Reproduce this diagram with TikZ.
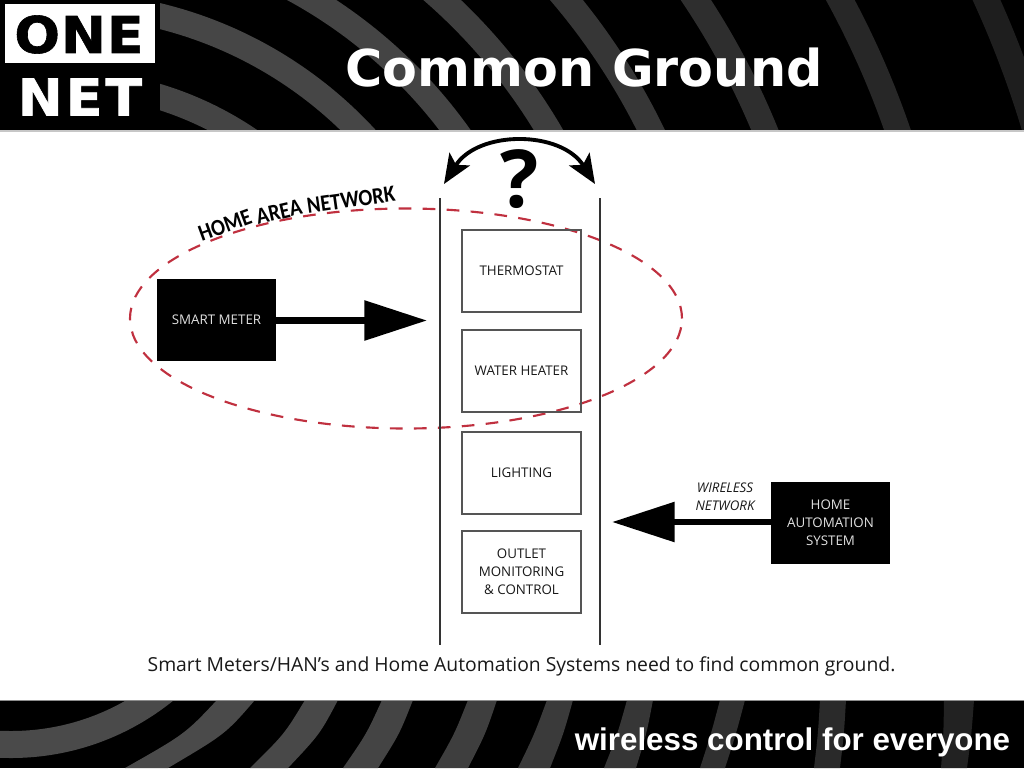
\documentclass[tikz,border=0pt]{standalone}
\usepackage{fontspec}
\usetikzlibrary{arrows.meta,shapes.geometric}
\setmainfont{Open Sans}
\newfontfamily\djb{DejaVu Sans}[BoldFont={DejaVu Sans Bold}]
\newfontfamily\logof{DejaVu Sans Bold}[FakeStretch=1.06,FakeBold=1.2]
\newfontfamily\lib{Liberation Sans}
\newfontfamily\hanf{Carlito Bold}
\definecolor{dgray}{HTML}{333333}
\definecolor{boxline}{HTML}{555555}
\definecolor{dashred}{HTML}{C0303F}
\tikzset{
  x=0.75pt,y=-0.75pt,
  appbox/.style={draw=boxline,line width=1.1pt,minimum width=89.25pt,minimum height=61.5pt,inner sep=0pt,align=center,font=\fontsize{10}{13.5}\selectfont,text=black!90},
  blackbox/.style={fill=black,minimum width=89.25pt,minimum height=61.5pt,inner sep=0pt,align=center,font=\fontsize{10}{13.5}\selectfont,text=black!12},
  bigarrow/.style={line width=5.2pt,-{Triangle[length=47pt,width=29pt]}},
  rail/.style={draw=dgray,line width=2pt},
  hanword/.style={inner sep=0pt,text=black,font={\hanf\fontsize{17.5}{17.5}\selectfont}},
  bothheads/.style={{Stealth[length=22pt,width=18pt,inset=5pt]}-{Stealth[length=22pt,width=18pt,inset=5pt]}},
}
\begin{document}
\begin{tikzpicture}
\useasboundingbox (0,0) rectangle (1024,768);
\fill[white] (0,0) rectangle (1024,768);
% top band
\fill[black] (0,0) rectangle (1024,130);
\begin{scope}
\clip (160,0) rectangle (1024,130);
\foreach \r/\c in {338/444444,416/464646,490/444444,568/3E3E3E,658/363636,762/2E2E2E,886/272727,1017/1E1E1E}{
  \definecolor{bandc}{HTML}{\c}
  \draw[bandc,line width=19pt] (60,420) circle[radius=\r*0.75pt];
}
\end{scope}
\fill[black!22] (0,130) rectangle (1024,131.5);
% bottom band
\fill[black] (0,700) rectangle (1024,768);
\begin{scope}
\clip (0,700) rectangle (1024,768);
\definecolor{bandc}{HTML}{4A4A4A}
\draw[bandc,line width=20.25pt] (11,500) circle[radius=244.5*0.75pt];
\foreach \a/\b/\c/\d/\e/\k in {217/255/168/125/14/4A4A4A,305/338/288/250/7/484848,382/413/378/343/4/444444,468/497/468/435/3/3E3E3E,547/573/550/518/2/3A3A3A,627/653/636/604/2/363636,720/745/725/700/1/303030,820/846/840/814/1/2A2A2A,944/974/967/941/1/222222}{
  \definecolor{bandc}{HTML}{\k}
  \fill[bandc] (\a,700) -- (\b,700) .. controls ({(\b+\c)/2+\e},734) .. (\c,768) -- (\d,768) .. controls ({(\a+\d)/2+\e},734) .. (\a,700) -- cycle;
}
\end{scope}
\fill[black!45] (0,700) rectangle (1024,701);
% logo and headings
\fill[white] (5,4) rectangle (155,63);
\node (one) at (79,34.5) [inner sep=0pt,text=black,font={\logof\fontsize{38}{38}\selectfont\addfontfeature{LetterSpace=2}}] {ONE};
\node (net) at (80,97) [inner sep=0pt,text=white,font={\logof\fontsize{38}{38}\selectfont\addfontfeature{LetterSpace=6}}] {NET};
\node (title) at (584,68) [inner sep=0pt,text=white,font={\djb\bfseries\fontsize{38.1}{38.1}\selectfont}] {Common Ground};
\node (tag) at (792.5,742.5) [inner sep=0pt,text=white,font={\lib\bfseries\fontsize{23.5}{23.5}\selectfont}] {wireless control for everyone};
% ellipse
\node (han) at (406,318.5) [draw=dashred,ellipse,line width=1.6pt,dash pattern=on 9.5pt off 8.5pt,minimum width=414pt,minimum height=165pt,inner sep=0pt] {};
% rails
\coordinate (railAtop) at (440,198); \coordinate (railAbot) at (440,645);
\coordinate (railBtop) at (600,198); \coordinate (railBbot) at (600,645);
\draw[rail] (railAtop) -- (railAbot);
\draw[rail] (railBtop) -- (railBbot);
% boxes
\node[appbox] (thermo) at (521.5,271) {THERMOSTAT};
\node[appbox] (water) at (521.5,371) {WATER HEATER};
\node[appbox] (light) at (521.5,473) {LIGHTING};
\node[appbox] (outlet) at (521.5,572) {OUTLET\\MONITORING\\\&~CONTROL};
\node[blackbox] (meter) at (216.5,320) {SMART METER};
\node[blackbox] (home) at (830.5,523) {HOME\\AUTOMATION\\SYSTEM};
% arrows
\coordinate (meterTip) at (427,320.5);
\coordinate (homeTip) at (612,522);
\draw[bigarrow] (meter.east |- meterTip) -- (meterTip);
\draw[bigarrow] (home.west |- homeTip) -- (homeTip);
\node (wl) at (725,496.5) [inner sep=0pt,align=center,text=black!90,font={\itshape\fontsize{10}{13.5}\selectfont}] {WIRELESS\\NETWORK};
% question arc
\coordinate (arcL) at (444,184); \coordinate (arcR) at (595,184);
\draw[line width=2.9pt,bothheads] (arcL) .. controls (478,130) and (561,130) .. (arcR);
\node (q) at (520,179) [inner sep=0pt,text=black,font={\bfseries\fontsize{60}{60}\selectfont}] {?};
% labels
\node[hanword,rotate=20,xscale=0.88] (w1) at (225,225) {HOME};
\node[hanword,rotate=13,xscale=0.88] (w2) at (279,212) {AREA};
\node[hanword,rotate=8,xscale=0.88] (w3) at (351,200) {NETWORK};
\node (cap) at (521.5,666) [inner sep=0pt,text=black!90,font={\fontsize{14.5}{16}\selectfont}] {Smart Meters/HAN’s and Home Automation Systems need to find common ground.};
\end{tikzpicture}
\end{document}
